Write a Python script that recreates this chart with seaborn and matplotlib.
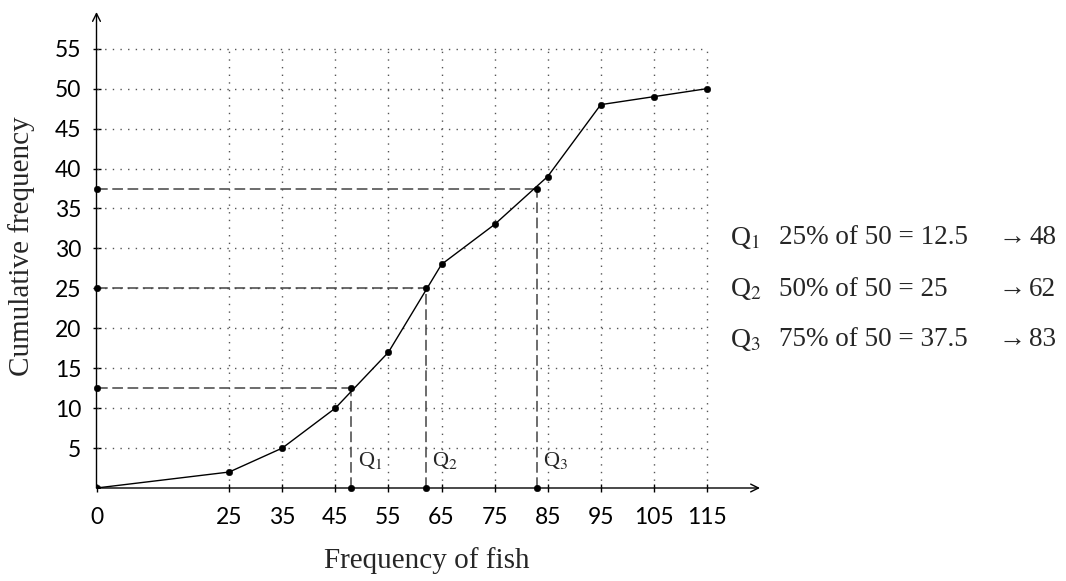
import numpy as np
import pandas as pd
import matplotlib
matplotlib.use("Agg")
import matplotlib.pyplot as plt
import seaborn as sns

# ---- data ----
fish = [0, 25, 35, 45, 55, 65, 75, 85, 95, 105, 115]
cum_freq = [0, 2, 5, 10, 17, 28, 33, 39, 48, 49, 50]
quart_names = ["Q$_1$", "Q$_2$", "Q$_3$"]
quart_pct = ["25%", "50%", "75%"]
quart_y = [12.5, 25, 37.5]
quart_x = [48, 62, 83]
x_ticks = [0, 25, 35, 45, 55, 65, 75, 85, 95, 105, 115]
y_ticks = [5, 10, 15, 20, 25, 30, 35, 40, 45, 50, 55]
total = 50

sns.set_theme(style="white")
plt.rcParams["mathtext.fontset"] = "stix"
SERIF = ["Liberation Serif", "DejaVu Serif"]
SANS = ["Lato", "DejaVu Sans"]

W, H = 1066, 581
fig = plt.figure(figsize=(W / 100, H / 100), dpi=100)
x0, x1 = 96.5, 760
y0, y1 = 488, 12
ax = fig.add_axes([x0 / W, (H - y0) / H, (x1 - x0) / W, (y0 - y1) / H])
ax.set_xlim(0, 125)
ax.set_ylim(0, 59.6)
ax.patch.set_alpha(0)

# dotted grid
grid_kw = dict(color="#555555", lw=1.0, linestyle=(0, (1, 4.5)), zorder=1)
ax.hlines(y_ticks, 0, max(x_ticks), **grid_kw)
ax.vlines(x_ticks[1:], 0, max(y_ticks), **grid_kw)

# quartile dashed guides
dash_kw = dict(color="#444444", lw=1.1, linestyle=(0, (7, 3)), zorder=2)
for qx, qy in zip(quart_x, quart_y):
    ax.plot([0, qx], [qy, qy], **dash_kw)
    ax.plot([qx, qx], [0, qy], **dash_kw)

df = pd.DataFrame({"fish": fish, "cum": cum_freq})
sns.lineplot(data=df, x="fish", y="cum", color="black", lw=1.0, ax=ax, zorder=3)
sns.scatterplot(data=df, x="fish", y="cum", color="black", s=22, edgecolor="black", ax=ax, zorder=4)
qdf = pd.DataFrame({"x": quart_x + [0] * 3 + quart_x, "y": quart_y + quart_y + [0] * 3})
sns.scatterplot(data=qdf, x="x", y="y", color="black", s=22, edgecolor="black", ax=ax, zorder=4, clip_on=False)

# axes with arrows
for s in ax.spines.values():
    s.set_visible(False)
ax.annotate("", xy=(125, 0), xytext=(0, 0), annotation_clip=False,
            arrowprops=dict(arrowstyle="->", lw=1.0, color="black", shrinkA=0, shrinkB=0, mutation_scale=14))
ax.annotate("", xy=(0, 59.6), xytext=(0, 0), annotation_clip=False,
            arrowprops=dict(arrowstyle="->", lw=1.0, color="black", shrinkA=0, shrinkB=0, mutation_scale=14))

ax.set_xticks(x_ticks)
ax.set_yticks(y_ticks)
ax.set_xticklabels([str(v) for v in x_ticks], fontfamily=SANS, fontsize=16.5)
ax.set_yticklabels([str(v) for v in y_ticks], fontfamily=SANS, fontsize=16.5)
ax.tick_params(axis="both", direction="inout", length=6, width=1.0, color="black",
               bottom=True, left=True, labelcolor="black")
ax.tick_params(axis="x", pad=11)
ax.tick_params(axis="y", pad=8)
ax.set_xlabel("")
ax.set_ylabel("")

# quartile labels near axis
for name, qx in zip(quart_names, quart_x):
    ax.text(qx + 1.2, 3.4, name, fontfamily=SERIF, fontsize=16, va="center", ha="left")

# axis titles
fig.text(427 / W, 1 - 568 / H, "Frequency of fish", fontfamily=SERIF, fontsize=21,
         ha="center", va="baseline")
fig.text(22 / W, 1 - 246 / H, "Cumulative frequency", fontfamily=SERIF, fontsize=21,
         ha="center", va="center", rotation=90)

# right-side calculations
rows_y = [238, 289, 340]
for name, pct, qy, qx, ry in zip(quart_names, quart_pct, quart_y, quart_x, rows_y):
    yy = 1 - ry / H
    fig.text(730 / W, yy, name, fontfamily=SERIF, fontsize=20, va="center", ha="left")
    qv = f"{qy:g}"
    fig.text(779 / W, yy, f"{pct} of {total} = {qv}", fontfamily=SERIF, fontsize=19.5,
             va="center", ha="left")
    fig.text(998 / W, yy, "\u2192", fontfamily=SERIF, fontsize=19.5, va="center", ha="left")
    fig.text(1056 / W, yy, str(qx), fontfamily=SERIF, fontsize=19.5, va="center", ha="right")

fig.savefig("out.png", dpi=100)
